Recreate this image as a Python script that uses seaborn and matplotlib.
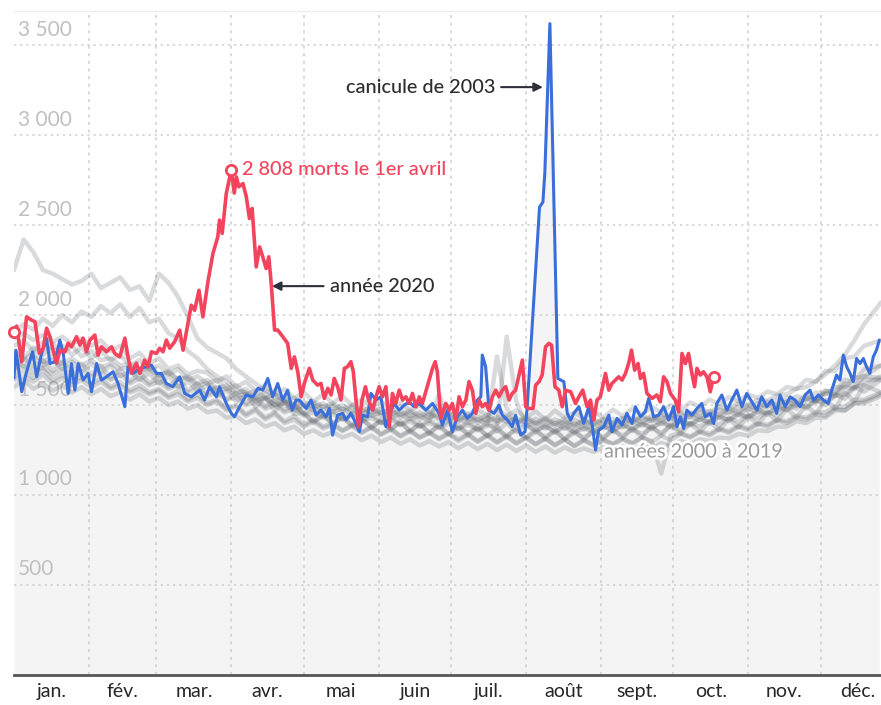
import matplotlib
matplotlib.use("Agg")
import matplotlib.pyplot as plt
import matplotlib.patheffects as pe
from matplotlib.transforms import ScaledTranslation
import numpy as np
import pandas as pd
import seaborn as sns

# calendar (non-leap), day 0 = 1 January
month_starts = [0, 31, 59, 90, 120, 151, 181, 212, 243, 273, 304, 334, 365]
month_labels = ["jan.", "fév.", "mar.", "avr.", "mai", "juin", "juil.",
                "août", "sept.", "oct.", "nov.", "déc."]
y_ticks = [500, 1000, 1500, 2000, 2500, 3000, 3500]

# 2020 daily deaths (stops mid-October)
days_2020 = [0, 1.1, 3.2, 5.2, 7.3, 8.7, 10.5, 12.1, 13.5, 14.9,
             16.2, 17.6, 19.0, 21.1, 22.4, 23.8, 25.9, 27.3, 28.6, 30.0,
             31.4, 33.5, 34.8, 36.2, 38.3, 40.4, 41.7, 43.8, 45.9, 47.2,
             48.6, 50.7, 52.1, 54.1, 55.5, 56.9, 59.0, 60.3, 61.7, 63.1,
             64.5, 66.5, 68.6, 70.0, 72.0, 73.4, 74.8, 76.6, 78.2, 80.3,
             82.4, 84.4, 85.1, 86.2, 87.9, 90, 91.2, 92.1, 93.1, 94.8,
             96.2, 97.5, 98.6, 100.3, 101.7, 103.0, 104.4, 105.5, 106.5, 107.9,
             109.2, 111.3, 113.3, 114.8, 116.1, 117.5, 118.9, 120.2, 122.3, 123.7,
             125.7, 127.1, 128.5, 129.9, 131.3, 132.6, 134.0, 135.4, 136.8, 138.1,
             139.5, 140.5, 141.6, 142.7, 144.1, 145.5, 146.8, 148.5, 149.9, 151.2,
             152.6, 154.0, 155.4, 156.7, 158.1, 159.5, 160.9, 162.3, 163.6, 165.0,
             166.4, 167.8, 169.1, 170.5, 171.9, 173.3, 174.4, 175.3, 176.7, 178.8,
             180.2, 181.5, 182.9, 184.3, 185.7, 187.1, 188.4, 189.8, 191.2, 192.6,
             193.9, 195.3, 196.7, 198.1, 199.5, 200.8, 202.2, 203.6, 205.0, 206.3,
             207.7, 209.1, 210.5, 211.9, 213.2, 214.9, 216.0, 217.4, 218.7, 220.1,
             221.5, 222.6, 224.0, 225.6, 227.0, 228.4, 230.5, 232.5, 233.9, 235.5,
             237.3, 238.7, 240.1, 241.4, 242.8, 244.9, 246.3, 247.6, 249.0, 250.4,
             251.8, 253.2, 254.5, 255.7, 257.0, 258.4, 259.4, 260.7, 262.1, 264.2,
             266.2, 267.6, 269.0, 270.4, 271.8, 273.8, 275.2, 276.6, 278.0, 279.3,
             280.7, 281.8, 282.8, 284.2, 285.5, 286.9, 288.3, 289.7]
deaths_2020 = [1906, 1939, 1740, 1990, 1972, 1963, 1788, 1816, 1927, 1880,
               1805, 1733, 1805, 1796, 1844, 1824, 1880, 1833, 1872, 1796,
               1861, 1889, 1777, 1824, 1796, 1824, 1787, 1768, 1872, 1768,
               1677, 1733, 1677, 1750, 1713, 1796, 1787, 1816, 1796, 1861,
               1816, 1852, 1916, 1805, 1953, 2055, 2027, 2138, 1990, 2185,
               2344, 2435, 2528, 2454, 2676, 2808, 2678, 2768, 2713, 2731,
               2657, 2537, 2593, 2268, 2379, 2324, 2259, 2324, 2176, 1917,
               1917, 1880, 1843, 1704, 1768, 1685, 1546, 1620, 1704, 1639,
               1611, 1620, 1537, 1593, 1556, 1648, 1602, 1528, 1704, 1713,
               1741, 1685, 1528, 1380, 1528, 1602, 1528, 1472, 1546, 1602,
               1546, 1602, 1380, 1565, 1509, 1583, 1528, 1546, 1509, 1565,
               1491, 1546, 1509, 1574, 1639, 1704, 1741, 1685, 1426, 1509,
               1472, 1509, 1417, 1546, 1491, 1528, 1630, 1583, 1454, 1528,
               1491, 1509, 1472, 1546, 1583, 1546, 1583, 1602, 1528, 1565,
               1583, 1667, 1750, 1491, 1481, 1481, 1611, 1630, 1667, 1824,
               1843, 1833, 1602, 1583, 1491, 1583, 1574, 1509, 1546, 1583,
               1491, 1528, 1417, 1528, 1546, 1676, 1583, 1620, 1639, 1657,
               1639, 1676, 1731, 1805, 1694, 1731, 1648, 1676, 1565, 1537,
               1556, 1518, 1657, 1630, 1565, 1528, 1463, 1787, 1731, 1787,
               1676, 1602, 1704, 1667, 1685, 1657, 1574, 1657]

# 2003 daily deaths (heatwave in August)
days_2003 = [0, 0.8, 3.2, 5.2, 7.7, 9.4, 11.4, 13.5, 14.9, 16.9,
             19.0, 20.4, 22.4, 23.8, 25.2, 26.6, 28.6, 30.7, 32.1, 34.2,
             36.2, 38.3, 41.0, 43.1, 45.9, 47.2, 49.3, 52.1, 54.8, 56.9,
             59.0, 61.0, 63.1, 65.8, 68.6, 70.7, 73.4, 76.9, 78.9, 81.0,
             83.8, 85.1, 87.9, 90.0, 91.3, 93.4, 96.2, 98.9, 101.0, 103.0,
             105.1, 107.1, 109.2, 111.3, 113.3, 115.2, 116.8, 118.2, 121.0, 123.0,
             125.1, 127.1, 129.2, 130.6, 131.9, 134.0, 136.1, 137.5, 139.5, 140.9,
             143.0, 144.3, 146.4, 147.8, 149.9, 151.9, 154.0, 156.1, 157.4, 159.5,
             161.6, 163.6, 165.7, 167.8, 170.5, 173.3, 176.0, 177.4, 179.5, 181.5,
             183.6, 185.7, 187.7, 189.8, 191.9, 193.3, 193.9, 195.3, 196.7, 198.8,
             200.8, 202.2, 204.3, 206.3, 207.7, 209.8, 211.6, 212.5, 217.6, 219.0,
             219.8, 221.9, 225.2, 227.7, 229.1, 230.5, 231.8, 233.9, 235.9, 238.0,
             239.4, 240.8, 242.1, 244.2, 246.3, 247.6, 249.7, 251.8, 253.8, 255.9,
             257.3, 259.4, 261.4, 262.8, 264.9, 266.9, 269.0, 271.1, 273.1, 274.5,
             275.9, 277.3, 278.6, 280.7, 282.8, 284.8, 286.2, 288.3, 289.7, 291.0,
             293.1, 295.2, 297.2, 299.3, 301.4, 303.4, 305.5, 307.6, 309.6, 311.7,
             313.8, 315.8, 317.2, 319.3, 321.4, 323.4, 325.5, 327.6, 329.6, 331.0,
             333.1, 335.1, 337.2, 338.6, 340.6, 342.0, 343.4, 344.8, 346.2, 347.5,
             348.9, 350.3, 351.7, 353.0, 354.4, 355.8, 357.1, 358.3]
deaths_2003 = [1650, 1805, 1574, 1685, 1796, 1657, 1787, 1870, 1731, 1741,
               1861, 1787, 1565, 1731, 1583, 1731, 1639, 1676, 1574, 1731,
               1639, 1657, 1685, 1620, 1491, 1713, 1676, 1704, 1713, 1722,
               1676, 1676, 1620, 1602, 1657, 1565, 1546, 1583, 1528, 1602,
               1546, 1602, 1509, 1454, 1435, 1491, 1556, 1546, 1593, 1583,
               1648, 1546, 1620, 1528, 1583, 1472, 1528, 1528, 1481, 1528,
               1444, 1472, 1435, 1481, 1333, 1444, 1454, 1417, 1454, 1417,
               1352, 1444, 1435, 1565, 1528, 1546, 1380, 1472, 1509, 1472,
               1500, 1518, 1491, 1509, 1472, 1509, 1454, 1389, 1472, 1352,
               1435, 1472, 1426, 1454, 1528, 1546, 1778, 1713, 1472, 1454,
               1500, 1444, 1417, 1380, 1444, 1333, 1352, 1491, 2600, 2628,
               2790, 3620, 1648, 1630, 1454, 1417, 1454, 1491, 1398, 1491,
               1389, 1250, 1361, 1380, 1444, 1352, 1426, 1389, 1454, 1398,
               1491, 1435, 1463, 1537, 1435, 1444, 1491, 1417, 1491, 1380,
               1435, 1370, 1472, 1444, 1481, 1509, 1435, 1454, 1398, 1509,
               1556, 1472, 1528, 1583, 1491, 1565, 1518, 1472, 1546, 1491,
               1528, 1454, 1556, 1491, 1546, 1528, 1491, 1556, 1583, 1528,
               1556, 1528, 1509, 1583, 1667, 1639, 1778, 1713, 1676, 1630,
               1759, 1731, 1759, 1713, 1676, 1768, 1805, 1861]

# the other years 2000-2019, read roughly every 4 days
grid_days = [0, 4, 8, 12, 16, 20, 24, 28, 32, 36,
             40, 44, 48, 52, 56, 60, 64, 68, 72, 76,
             80, 84, 88, 92, 96, 100, 104, 108, 112, 116,
             120, 124, 128, 132, 136, 140, 144, 148, 152, 156,
             160, 164, 168, 172, 176, 180, 184, 188, 192, 196,
             200, 204, 208, 212, 216, 220, 224, 228, 232, 236,
             240, 244, 248, 252, 256, 260, 264, 268, 272, 276,
             280, 284, 288, 292, 296, 300, 304, 308, 312, 316,
             320, 324, 328, 332, 336, 340, 344, 348, 352, 359]
grey_01 = [2250, 2420, 2350, 2250, 2230, 2200, 2170, 2190, 2230, 2150,
           2180, 2210, 2140, 2160, 2080, 2230, 2180, 2100, 1990, 1870,
           1820, 1790, 1760, 1700, 1660, 1620, 1580, 1560, 1520, 1500,
           1450, 1410, 1440, 1400, 1430, 1390, 1420, 1380, 1410, 1370,
           1400, 1360, 1390, 1350, 1380, 1340, 1375, 1345, 1370, 1330,
           1360, 1330, 1365, 1320, 1350, 1325, 1355, 1310, 1345, 1320,
           1350, 1320, 1360, 1330, 1365, 1340, 1375, 1345, 1385, 1360,
           1400, 1380, 1415, 1390, 1430, 1405, 1445, 1425, 1465, 1440,
           1500, 1480, 1530, 1520, 1580, 1570, 1640, 1630, 1700, 1720]
grey_02 = [1900, 1950, 1920, 1980, 1940, 2000, 1960, 2020, 1990, 2050,
           2010, 2060, 1990, 2040, 1960, 1980, 1900, 1870, 1800, 1760,
           1700, 1660, 1630, 1580, 1570, 1530, 1540, 1500, 1510, 1470,
           1490, 1510, 1470, 1500, 1460, 1490, 1450, 1480, 1440, 1470,
           1430, 1460, 1420, 1450, 1420, 1440, 1410, 1440, 1400, 1430,
           1400, 1430, 1395, 1425, 1390, 1420, 1385, 1410, 1380, 1415,
           1385, 1420, 1390, 1425, 1400, 1430, 1410, 1440, 1420, 1450,
           1430, 1465, 1440, 1475, 1455, 1490, 1470, 1510, 1490, 1530,
           1510, 1550, 1530, 1570, 1560, 1600, 1600, 1650, 1660, 1720]
grey_03 = [1870, 1900, 1860, 1890, 1850, 1880, 1840, 1870, 1830, 1860,
           1800, 1830, 1760, 1790, 1730, 1760, 1700, 1720, 1670, 1690,
           1680, 1630, 1660, 1600, 1630, 1580, 1610, 1560, 1590, 1540,
           1570, 1520, 1560, 1510, 1550, 1500, 1530, 1490, 1520, 1480,
           1510, 1470, 1500, 1460, 1490, 1455, 1480, 1450, 1475, 1440,
           1480, 1440, 1470, 1430, 1465, 1420, 1470, 1430, 1460, 1425,
           1465, 1430, 1475, 1440, 1480, 1450, 1490, 1460, 1500, 1470,
           1515, 1490, 1530, 1505, 1545, 1520, 1560, 1540, 1575, 1560,
           1600, 1590, 1640, 1630, 1690, 1690, 1760, 1770, 1830, 1860]
grey_04 = [1700, 1760, 1710, 1750, 1690, 1740, 1680, 1730, 1670, 1720,
           1650, 1700, 1630, 1680, 1620, 1660, 1600, 1650, 1580, 1620,
           1560, 1600, 1530, 1570, 1510, 1550, 1490, 1530, 1470, 1510,
           1450, 1490, 1440, 1470, 1420, 1460, 1410, 1450, 1400, 1440,
           1390, 1430, 1380, 1420, 1375, 1415, 1365, 1410, 1360, 1405,
           1355, 1400, 1350, 1395, 1350, 1390, 1345, 1395, 1345, 1390,
           1345, 1395, 1350, 1400, 1355, 1405, 1365, 1415, 1375, 1425,
           1385, 1435, 1395, 1445, 1410, 1460, 1425, 1480, 1445, 1500,
           1470, 1520, 1480, 1530, 1500, 1560, 1535, 1600, 1575, 1640]
grey_05 = [1600, 1640, 1590, 1620, 1580, 1610, 1570, 1600, 1560, 1590,
           1550, 1570, 1530, 1560, 1520, 1540, 1500, 1520, 1480, 1500,
           1460, 1470, 1430, 1440, 1400, 1420, 1380, 1400, 1360, 1380,
           1340, 1360, 1330, 1350, 1320, 1340, 1305, 1330, 1295, 1320,
           1285, 1310, 1275, 1300, 1270, 1295, 1260, 1290, 1255, 1285,
           1250, 1280, 1245, 1275, 1240, 1270, 1235, 1265, 1240, 1260,
           1240, 1265, 1245, 1270, 1250, 1280, 1260, 1290, 1270, 1300,
           1285, 1310, 1300, 1320, 1315, 1340, 1330, 1360, 1355, 1380,
           1380, 1410, 1400, 1430, 1430, 1470, 1470, 1510, 1520, 1560]
grey_06 = [1660, 1690, 1650, 1700, 1640, 1670, 1630, 1660, 1620, 1650,
           1600, 1630, 1580, 1610, 1570, 1590, 1550, 1580, 1530, 1560,
           1510, 1530, 1480, 1500, 1450, 1480, 1430, 1460, 1410, 1440,
           1390, 1420, 1380, 1400, 1360, 1390, 1350, 1380, 1340, 1370,
           1330, 1360, 1320, 1350, 1315, 1345, 1310, 1340, 1300, 1335,
           1295, 1330, 1290, 1320, 1285, 1315, 1280, 1310, 1275, 1305,
           1280, 1310, 1285, 1315, 1290, 1320, 1300, 1120, 1330, 1345,
           1325, 1355, 1340, 1370, 1355, 1385, 1370, 1400, 1390, 1420,
           1410, 1440, 1430, 1460, 1460, 1490, 1490, 1530, 1530, 1570]
grey_07 = [1800, 1760, 1820, 1780, 1840, 1790, 1830, 1770, 1800, 1750,
           1760, 1720, 1730, 1690, 1710, 1670, 1680, 1640, 1650, 1610,
           1620, 1580, 1590, 1550, 1560, 1520, 1540, 1500, 1520, 1480,
           1500, 1470, 1490, 1460, 1480, 1450, 1470, 1440, 1460, 1430,
           1450, 1420, 1440, 1410, 1560, 1410, 1420, 1400, 1420, 1390,
           1770, 1480, 1410, 1380, 1400, 1370, 1400, 1370, 1395, 1365,
           1395, 1370, 1400, 1375, 1410, 1385, 1420, 1395, 1430, 1405,
           1440, 1415, 1450, 1430, 1465, 1445, 1480, 1460, 1500, 1480,
           1520, 1500, 1540, 1520, 1565, 1550, 1600, 1590, 1640, 1640]
grey_08 = [1830, 1860, 1800, 1850, 1790, 1830, 1780, 1820, 1760, 1800,
           1750, 1780, 1720, 1750, 1700, 1720, 1670, 1700, 1640, 1660,
           1620, 1640, 1590, 1610, 1560, 1580, 1540, 1560, 1520, 1540,
           1500, 1520, 1490, 1510, 1475, 1500, 1465, 1490, 1455, 1480,
           1445, 1470, 1440, 1460, 1430, 1455, 1420, 1450, 1415, 1445,
           1410, 1440, 1405, 1435, 1400, 1430, 1395, 1425, 1390, 1420,
           1395, 1425, 1400, 1430, 1410, 1440, 1420, 1450, 1430, 1460,
           1445, 1475, 1460, 1490, 1480, 1510, 1500, 1530, 1525, 1555,
           1560, 1590, 1600, 1630, 1670, 1720, 1780, 1860, 1950, 2070]
grey_09 = [1690, 1720, 1680, 1710, 1670, 1700, 1665, 1690, 1660, 1680,
           1640, 1670, 1620, 1650, 1610, 1630, 1590, 1610, 1570, 1590,
           1550, 1570, 1530, 1540, 1500, 1520, 1480, 1500, 1460, 1480,
           1440, 1460, 1430, 1450, 1420, 1440, 1410, 1430, 1400, 1420,
           1390, 1410, 1380, 1400, 1375, 1395, 1370, 1390, 1365, 1385,
           1380, 1880, 1520, 1390, 1360, 1380, 1355, 1375, 1350, 1370,
           1355, 1380, 1360, 1385, 1370, 1395, 1375, 1400, 1385, 1410,
           1395, 1420, 1405, 1430, 1420, 1445, 1435, 1460, 1455, 1480,
           1475, 1500, 1490, 1520, 1520, 1550, 1560, 1600, 1610, 1660]
grey_10 = [1760, 1710, 1770, 1720, 1750, 1700, 1740, 1690, 1730, 1680,
           1720, 1660, 1690, 1640, 1680, 1620, 1660, 1600, 1630, 1580,
           1610, 1550, 1580, 1520, 1560, 1490, 1540, 1470, 1520, 1450,
           1460, 1400, 1450, 1390, 1440, 1380, 1430, 1370, 1420, 1360,
           1410, 1350, 1400, 1340, 1395, 1335, 1390, 1330, 1385, 1325,
           1380, 1320, 1375, 1315, 1370, 1310, 1365, 1310, 1365, 1305,
           1365, 1310, 1370, 1315, 1375, 1320, 1385, 1330, 1395, 1340,
           1400, 1350, 1410, 1360, 1425, 1375, 1440, 1390, 1460, 1410,
           1480, 1430, 1500, 1450, 1530, 1480, 1570, 1520, 1610, 1570]
grey_11 = [1780, 1750, 1790, 1740, 1770, 1730, 1760, 1720, 1750, 1710,
           1730, 1700, 1710, 1680, 1700, 1660, 1690, 1640, 1660, 1620,
           1640, 1590, 1610, 1560, 1590, 1540, 1570, 1520, 1545, 1500,
           1520, 1490, 1510, 1475, 1500, 1465, 1490, 1460, 1480, 1450,
           1470, 1440, 1460, 1430, 1455, 1425, 1445, 1420, 1440, 1410,
           1435, 1405, 1430, 1400, 1425, 1395, 1420, 1395, 1420, 1390,
           1420, 1395, 1425, 1400, 1430, 1405, 1440, 1415, 1450, 1425,
           1460, 1435, 1470, 1445, 1485, 1460, 1500, 1480, 1520, 1500,
           1540, 1510, 1560, 1530, 1580, 1560, 1620, 1600, 1660, 1650]
grey_12 = [1640, 1660, 1630, 1670, 1620, 1650, 1610, 1640, 1600, 1630,
           1590, 1610, 1570, 1590, 1560, 1580, 1540, 1560, 1520, 1540,
           1500, 1520, 1470, 1490, 1440, 1470, 1420, 1450, 1400, 1420,
           1380, 1410, 1370, 1390, 1355, 1385, 1345, 1375, 1335, 1365,
           1325, 1355, 1320, 1345, 1310, 1340, 1300, 1335, 1295, 1330,
           1290, 1325, 1285, 1320, 1280, 1315, 1275, 1310, 1270, 1305,
           1275, 1305, 1280, 1310, 1285, 1320, 1295, 1330, 1305, 1340,
           1320, 1350, 1330, 1365, 1345, 1380, 1360, 1395, 1380, 1415,
           1400, 1430, 1420, 1450, 1440, 1480, 1470, 1510, 1510, 1550]

grey_series = [grey_01, grey_02, grey_03, grey_04, grey_05, grey_06,
               grey_07, grey_08, grey_09, grey_10, grey_11, grey_12]

RED = "#f4435d"
BLUE = "#3a6fdb"
NAVY = "#2b303b"

sns.set_theme(style="white")
plt.rcParams["font.family"] = ["Lato", "DejaVu Sans"]

fig = plt.figure(figsize=(8.81, 7.05), dpi=100)
ax = fig.add_axes([14 / 881, 30 / 705, 867 / 881, 664 / 705])

# light grey area under the 2003 curve
ax.fill_between(days_2003, 0, deaths_2003, color="#f4f4f4", lw=0, zorder=0.2)

grey_df = pd.DataFrame({
    "day": np.tile(grid_days, len(grey_series)),
    "deaths": np.concatenate(grey_series),
    "year": np.repeat(np.arange(len(grey_series)), len(grid_days)),
})
sns.lineplot(data=grey_df, x="day", y="deaths", units="year", estimator=None,
             color="#4b525a", alpha=0.21, lw=3.2, ax=ax, zorder=2, legend=False)

sns.lineplot(x=days_2003, y=deaths_2003, color=BLUE, lw=2.2, ax=ax, zorder=3)
sns.lineplot(x=days_2020, y=deaths_2020, color=RED, lw=2.6, ax=ax, zorder=4)

# circles on 2020: start, peak, last value
peak = int(np.argmax(deaths_2020))
marks = [0, peak, len(days_2020) - 1]
ax.scatter([days_2020[i] for i in marks], [deaths_2020[i] for i in marks],
           s=55, facecolor="white", edgecolor=RED, lw=2, zorder=5, clip_on=False)

# axes
ax.set_xlim(0, 359)
ax.set_ylim(0, 3690)
ax.set_xlabel("")
ax.set_ylabel("")

mid_months = [(a + b) / 2 for a, b in zip(month_starts[:-1], month_starts[1:])]
ax.set_xticks(mid_months)
ax.set_xticklabels(month_labels)
ax.set_xticks(month_starts[1:-1], minor=True)
ax.set_yticks(y_ticks)
ax.set_yticklabels([f"{t:,}".replace(",", " ") for t in y_ticks])

ax.set_axisbelow(True)
ax.grid(False)
ax.grid(axis="y", which="major", color="#cfcfcf", ls=(0, (1.5, 2.5)), lw=1.1)
ax.grid(axis="x", which="minor", color="#cfcfcf", ls=(0, (2, 3)), lw=1.1)

ax.tick_params(axis="x", which="both", length=0, pad=6, labelsize=14,
               labelcolor="#262626")
ax.tick_params(axis="y", length=0, pad=-3, labelsize=15, labelcolor="#c0c0c0")
lift = ScaledTranslation(0, 4 / 72, fig.dpi_scale_trans)
for lbl in ax.get_yticklabels():
    lbl.set_ha("left")
    lbl.set_va("bottom")
    lbl.set_transform(lbl.get_transform() + lift)

for side in ["left", "right"]:
    ax.spines[side].set_visible(False)
ax.spines["top"].set_color("#eeeeee")
ax.spines["top"].set_linewidth(1)
ax.spines["bottom"].set_color("#555555")
ax.spines["bottom"].set_linewidth(2)

# annotations
arrow = dict(arrowstyle="-|>", color=NAVY, lw=1.5, mutation_scale=13,
             shrinkA=0, shrinkB=0)
ax.annotate("", xy=(219.0, 3267), xytext=(201.7, 3267), arrowprops=arrow)
ax.text(199.3, 3267, "canicule de 2003", ha="right", va="center",
        fontsize=14.3, color="#2e2e2e", fontweight="medium")

ax.annotate("", xy=(106.8, 2161), xytext=(128.2, 2161), arrowprops=arrow)
ax.text(130.8, 2161, "année 2020", ha="left", va="center",
        fontsize=14.3, color="#2e2e2e", fontweight="medium")

ax.text(days_2020[peak] + 4.6, deaths_2020[peak], "2 808 morts le 1er avril",
        ha="left", va="center", fontsize=14.3, color=RED, fontweight="medium")

ax.text(244.3, 1239, "années 2000 à 2019", ha="left", va="center",
        fontsize=14.3, color="#9a9a9a", zorder=6,
        path_effects=[pe.withStroke(linewidth=4, foreground="white")])

fig.savefig("out.png", dpi=100)
